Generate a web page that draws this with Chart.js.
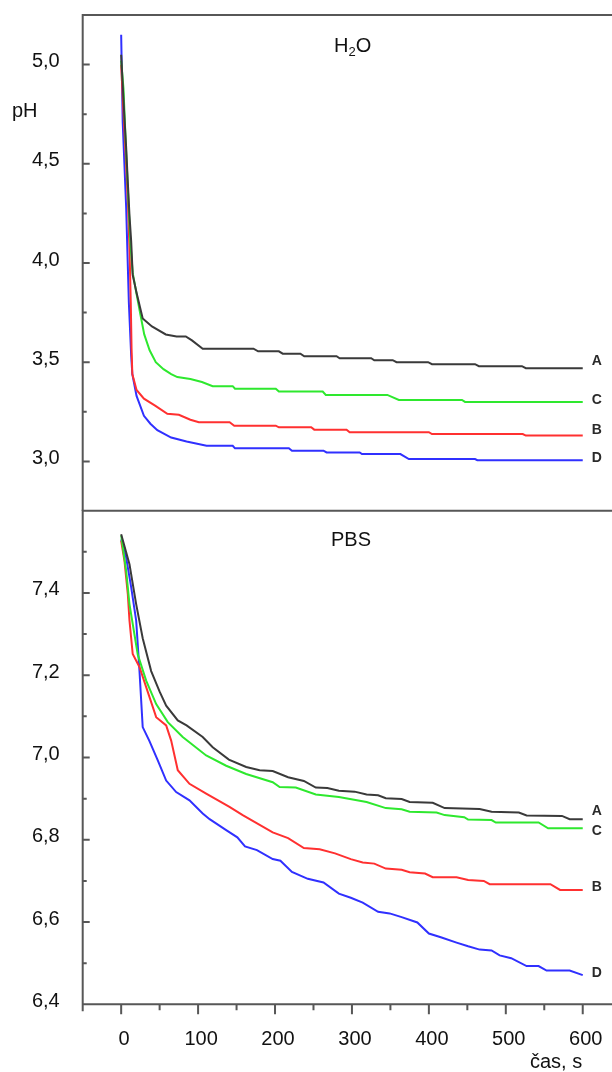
<!DOCTYPE html>
<html>
<head>
<meta charset="utf-8">
<script src="https://cdn.jsdelivr.net/npm/chart.js@4.4.1/dist/chart.umd.min.js"></script>
<style>
  html, body { margin: 0; padding: 0; background: #fff; overflow: hidden; width: 612px; height: 1072px; }
  .panel { position: absolute; left: 0; width: 640px; }
  #topPanel { top: 0; height: 511px; }
  #botPanel { top: 500px; height: 572px; }
  .txt { position: absolute; font-family: "Liberation Sans", Arial, sans-serif; font-size: 20px; color: #111; white-space: nowrap; line-height: 1; }
  .txt sub { font-size: 13px; vertical-align: -4px; }
</style>
</head>
<body>
<div class="panel" id="topPanel"><canvas id="chartH2O" width="640" height="511"></canvas></div>
<div class="panel" id="botPanel"><canvas id="chartPBS" width="640" height="572"></canvas></div>
<div class="txt" style="left:12px; top:100px;">pH</div>
<div class="txt" style="left:334px; top:35px;">H<sub>2</sub>O</div>
<div class="txt" style="left:331px; top:529px;">PBS</div>
<div class="txt" style="left:530px; top:1051px;">čas, s</div>

<script>
// ---- H2O panel data (time in s, pH) ----
const h2oTimeA = [0, 4, 6.5, 8.6, 10.8, 13, 15, 20, 28, 40, 58, 72, 84, 92, 106, 172, 178, 205, 210, 233, 238, 280, 284, 325, 329, 353, 358, 399, 404, 460, 465, 521, 526, 600];
const h2oPhA   = [5.05, 4.75, 4.58, 4.41, 4.24, 4.11, 3.94, 3.85, 3.72, 3.68, 3.64, 3.63, 3.63, 3.61, 3.568, 3.568, 3.555, 3.555, 3.543, 3.543, 3.53, 3.53, 3.52, 3.52, 3.51, 3.51, 3.50, 3.50, 3.49, 3.49, 3.48, 3.48, 3.47, 3.47];

const h2oTimeC = [0, 3, 6, 9, 12, 15, 19.5, 25, 30, 37, 45, 55, 65, 73, 90, 105, 119, 145, 148, 201, 205, 262, 266, 346, 361, 443, 447, 600];
const h2oPhC   = [5.02, 4.88, 4.6, 4.35, 4.1, 3.95, 3.855, 3.74, 3.64, 3.56, 3.50, 3.465, 3.44, 3.425, 3.415, 3.40, 3.379, 3.379, 3.366, 3.366, 3.352, 3.352, 3.335, 3.335, 3.31, 3.31, 3.30, 3.30];

const h2oTimeB = [0, 3, 6, 9, 11, 12.5, 13.5, 14.5, 20, 29.6, 44.6, 60, 75, 90, 101, 141, 147, 201, 205, 247, 251, 293, 297, 400, 404, 522, 526, 600];
const h2oPhB   = [5.0, 4.76, 4.53, 4.28, 4.05, 3.8, 3.57, 3.44, 3.36, 3.316, 3.28, 3.24, 3.235, 3.21, 3.197, 3.197, 3.18, 3.18, 3.172, 3.172, 3.16, 3.16, 3.147, 3.147, 3.138, 3.138, 3.13, 3.13];

const h2oTimeD = [0, 2, 6.5, 10, 13, 14.5, 20, 29.6, 38, 47, 65, 85, 111, 145, 148, 218, 222, 263, 267, 310, 313, 363, 374, 460, 463, 600];
const h2oPhD   = [5.15, 4.71, 4.28, 3.8, 3.535, 3.44, 3.33, 3.23, 3.19, 3.157, 3.12, 3.10, 3.079, 3.079, 3.066, 3.066, 3.054, 3.054, 3.045, 3.045, 3.037, 3.037, 3.012, 3.012, 3.006, 3.006];

// ---- PBS panel data ----
const pbsTimeA = [0, 10.8, 19.5, 28, 39, 50, 58.5, 73.6, 85, 106, 119, 140, 162.5, 180, 197, 217, 237.5, 253, 268, 283, 303.5, 319, 334, 344, 364.6, 375, 405, 420.5, 466, 481.5, 517, 527, 573, 583, 600];
const pbsPhA   = [7.543, 7.47, 7.373, 7.29, 7.21, 7.16, 7.126, 7.09, 7.078, 7.05, 7.025, 6.995, 6.977, 6.969, 6.967, 6.952, 6.943, 6.927, 6.926, 6.919, 6.917, 6.91, 6.908, 6.901, 6.899, 6.892, 6.89, 6.877, 6.875, 6.868, 6.866, 6.859, 6.858, 6.85, 6.85];

const pbsTimeC = [0, 6.5, 10.8, 21.6, 32.5, 45.5, 60.6, 80, 110.5, 136.5, 162.5, 197, 206, 227, 253, 283, 319, 344, 364.6, 375, 410, 420.5, 446, 451, 481.5, 487, 542.6, 555, 600];
const pbsPhC   = [7.54, 7.454, 7.373, 7.25, 7.187, 7.13, 7.086, 7.05, 7.005, 6.98, 6.96, 6.94, 6.928, 6.927, 6.91, 6.904, 6.892, 6.877, 6.874, 6.868, 6.866, 6.86, 6.855, 6.849, 6.848, 6.842, 6.842, 6.828, 6.828];

const pbsTimeB = [0, 4.3, 8.6, 10.8, 15, 23.8, 32.5, 45.5, 58.5, 65, 73.6, 88.8, 110.5, 140.8, 158, 171, 197, 217, 237.5, 258, 278, 298.5, 314, 329, 344, 364.6, 375, 395, 405, 436, 451, 471.4, 479, 558, 570.5, 600];
const pbsPhB   = [7.527, 7.478, 7.398, 7.333, 7.252, 7.22, 7.171, 7.098, 7.078, 7.041, 6.969, 6.936, 6.912, 6.88, 6.86, 6.846, 6.818, 6.804, 6.78, 6.777, 6.767, 6.753, 6.745, 6.742, 6.73, 6.727, 6.721, 6.718, 6.709, 6.709, 6.702, 6.70, 6.692, 6.692, 6.678, 6.678];

const pbsTimeD = [0, 6.5, 13, 19.5, 23.8, 28, 36.8, 47.6, 58.5, 71.5, 88.8, 106, 115, 136, 151, 161, 176.5, 197, 207, 222, 242.6, 263, 283, 298.5, 314, 334, 349, 364.6, 385, 400, 415.5, 436, 451, 466, 481.5, 492, 507, 527, 542.6, 553, 583, 600];
const pbsPhD   = [7.53, 7.486, 7.414, 7.333, 7.211, 7.074, 7.04, 6.993, 6.944, 6.916, 6.896, 6.864, 6.85, 6.824, 6.806, 6.784, 6.775, 6.753, 6.749, 6.722, 6.705, 6.696, 6.669, 6.659, 6.647, 6.625, 6.621, 6.612, 6.599, 6.572, 6.563, 6.55, 6.541, 6.533, 6.531, 6.519, 6.512, 6.493, 6.493, 6.482, 6.482, 6.471];

// ---- tick labels ----
const timeTicks = [0, 100, 200, 300, 400, 500, 600];
const h2oTicks = [3.0, 3.5, 4.0, 4.5, 5.0];
const pbsTicks = [6.4, 6.6, 6.8, 7.0, 7.2, 7.4];

const seriesColors = { A: '#3a3a3a', B: '#ff3030', C: '#2ee82e', D: '#3030ff' };
const FONT = '"Liberation Sans", Arial, sans-serif';

// Zip time and pH arrays into points
function toPoints(times, values) {
  return times.map((t, i) => ({ x: t, y: values[i] }));
}

function makeDataset(letter, times, values, labelDy) {
  return {
    label: letter,
    data: toPoints(times, values),
    borderColor: seriesColors[letter],
    borderWidth: 2,
    pointRadius: 0,
    tension: 0,
    fill: false,
    endLabelDy: labelDy
  };
}

// Frame, inward y ticks, outward x ticks and the A-D end labels
const framePlugin = {
  id: 'frame',
  afterDraw(chart, args, opts) {
    const ctx = chart.ctx;
    const a = chart.chartArea;
    const xs = chart.scales.x;
    const ys = chart.scales.y;
    ctx.save();
    ctx.strokeStyle = '#575757';
    ctx.lineWidth = 2;
    ctx.lineCap = 'butt';

    ctx.beginPath();
    ctx.moveTo(a.left, a.bottom + (opts.xTicks ? 7 : 0));
    ctx.lineTo(a.left, a.top);
    ctx.moveTo(a.left - 1, a.top);
    ctx.lineTo(a.right + 30, a.top);
    if (opts.xTicks) {
      ctx.moveTo(a.left - 1, a.bottom);
      ctx.lineTo(a.right + 30, a.bottom);
    }
    ctx.stroke();

    // y ticks point into the plot
    ctx.beginPath();
    for (let v = ys.min; v <= ys.max + 1e-9; v += opts.yStep) {
      const val = Math.round(v * 1000) / 1000;
      const py = ys.getPixelForValue(val);
      if (py < a.top + 2 || py > a.bottom - 1) continue;
      const major = opts.yMajor.some(m => Math.abs(m - val) < 1e-6);
      ctx.moveTo(a.left, py);
      ctx.lineTo(a.left + (major ? 7 : 4), py);
    }
    ctx.stroke();

    // x ticks point down out of the plot
    if (opts.xTicks) {
      ctx.beginPath();
      for (let v = 0; v <= 600; v += 50) {
        const px = xs.getPixelForValue(v);
        ctx.moveTo(px, a.bottom);
        ctx.lineTo(px, a.bottom + (v % 100 === 0 ? 10 : 6));
      }
      ctx.stroke();
    }

    // end-of-curve letters
    ctx.fillStyle = '#2a2a2a';
    ctx.font = 'bold 14px "Liberation Sans Narrow", "Liberation Sans", Arial, sans-serif';
    ctx.textAlign = 'left';
    ctx.textBaseline = 'middle';
    chart.data.datasets.forEach((ds, i) => {
      const pts = chart.getDatasetMeta(i).data;
      const last = pts[pts.length - 1];
      ctx.fillText(ds.label, last.x + 9, last.y + ds.endLabelDy);
    });
    ctx.restore();
  }
};

function yTickLabel(v) {
  return Number(v).toFixed(1).replace('.', ',');
}

// Drop the label-driven padding so the plot box sits where it should
function fixYWidth(s) {
  s.width = 82.7;
  s.paddingTop = 0;
  s.paddingBottom = 0;
}

function baseOptions() {
  return {
    responsive: false,
    animation: false,
    devicePixelRatio: 1,
    plugins: { legend: { display: false }, tooltip: { enabled: false } }
  };
}

// Top: H2O
const h2oOptions = baseOptions();
h2oOptions.layout = { padding: { top: 15, right: 18.8, bottom: 0, left: 0 } };
h2oOptions.plugins.frame = { yStep: 0.25, yMajor: h2oTicks, xTicks: false };
h2oOptions.scales = {
  x: { type: 'linear', min: -50, max: 650, display: false },
  y: {
    type: 'linear', min: 2.75, max: 5.25,
    afterFit: fixYWidth,
    afterBuildTicks: s => { s.ticks = h2oTicks.map(v => ({ value: v })); },
    grid: { display: false },
    border: { display: false },
    ticks: { color: '#111', font: { family: FONT, size: 20 }, padding: 15, labelOffset: -3, callback: yTickLabel }
  }
};

new Chart(document.getElementById('chartH2O'), {
  type: 'line',
  data: {
    datasets: [
      makeDataset('A', h2oTimeA, h2oPhA, -7),
      makeDataset('C', h2oTimeC, h2oPhC, -2),
      makeDataset('B', h2oTimeB, h2oPhB, -5),
      makeDataset('D', h2oTimeD, h2oPhD, -2)
    ]
  },
  options: h2oOptions,
  plugins: [framePlugin]
});

// Bottom: PBS
const pbsOptions = baseOptions();
pbsOptions.layout = { padding: { top: 10.7, right: 18.8, bottom: 0, left: 0 } };
pbsOptions.plugins.frame = { yStep: 0.1, yMajor: pbsTicks, xTicks: true };
pbsOptions.scales = {
  x: {
    type: 'linear', min: -50, max: 650,
    afterFit: s => { s.height = 67.7; s.paddingLeft = 0; s.paddingRight = 0; },
    afterBuildTicks: s => { s.ticks = timeTicks.map(v => ({ value: v })); },
    grid: { display: false },
    border: { display: false },
    ticks: { color: '#111', font: { family: FONT, size: 20 }, padding: 15, labelOffset: 3, maxRotation: 0, autoSkip: false }
  },
  y: {
    type: 'linear', min: 6.4, max: 7.6,
    afterFit: fixYWidth,
    afterBuildTicks: s => { s.ticks = pbsTicks.map(v => ({ value: v })); },
    grid: { display: false },
    border: { display: false },
    ticks: { color: '#111', font: { family: FONT, size: 20 }, padding: 15, labelOffset: -3, callback: yTickLabel }
  }
};

new Chart(document.getElementById('chartPBS'), {
  type: 'line',
  data: {
    datasets: [
      makeDataset('A', pbsTimeA, pbsPhA, -8),
      makeDataset('C', pbsTimeC, pbsPhC, 3),
      makeDataset('B', pbsTimeB, pbsPhB, -3),
      makeDataset('D', pbsTimeD, pbsPhD, -2)
    ]
  },
  options: pbsOptions,
  plugins: [framePlugin]
});
</script>
</body>
</html>
